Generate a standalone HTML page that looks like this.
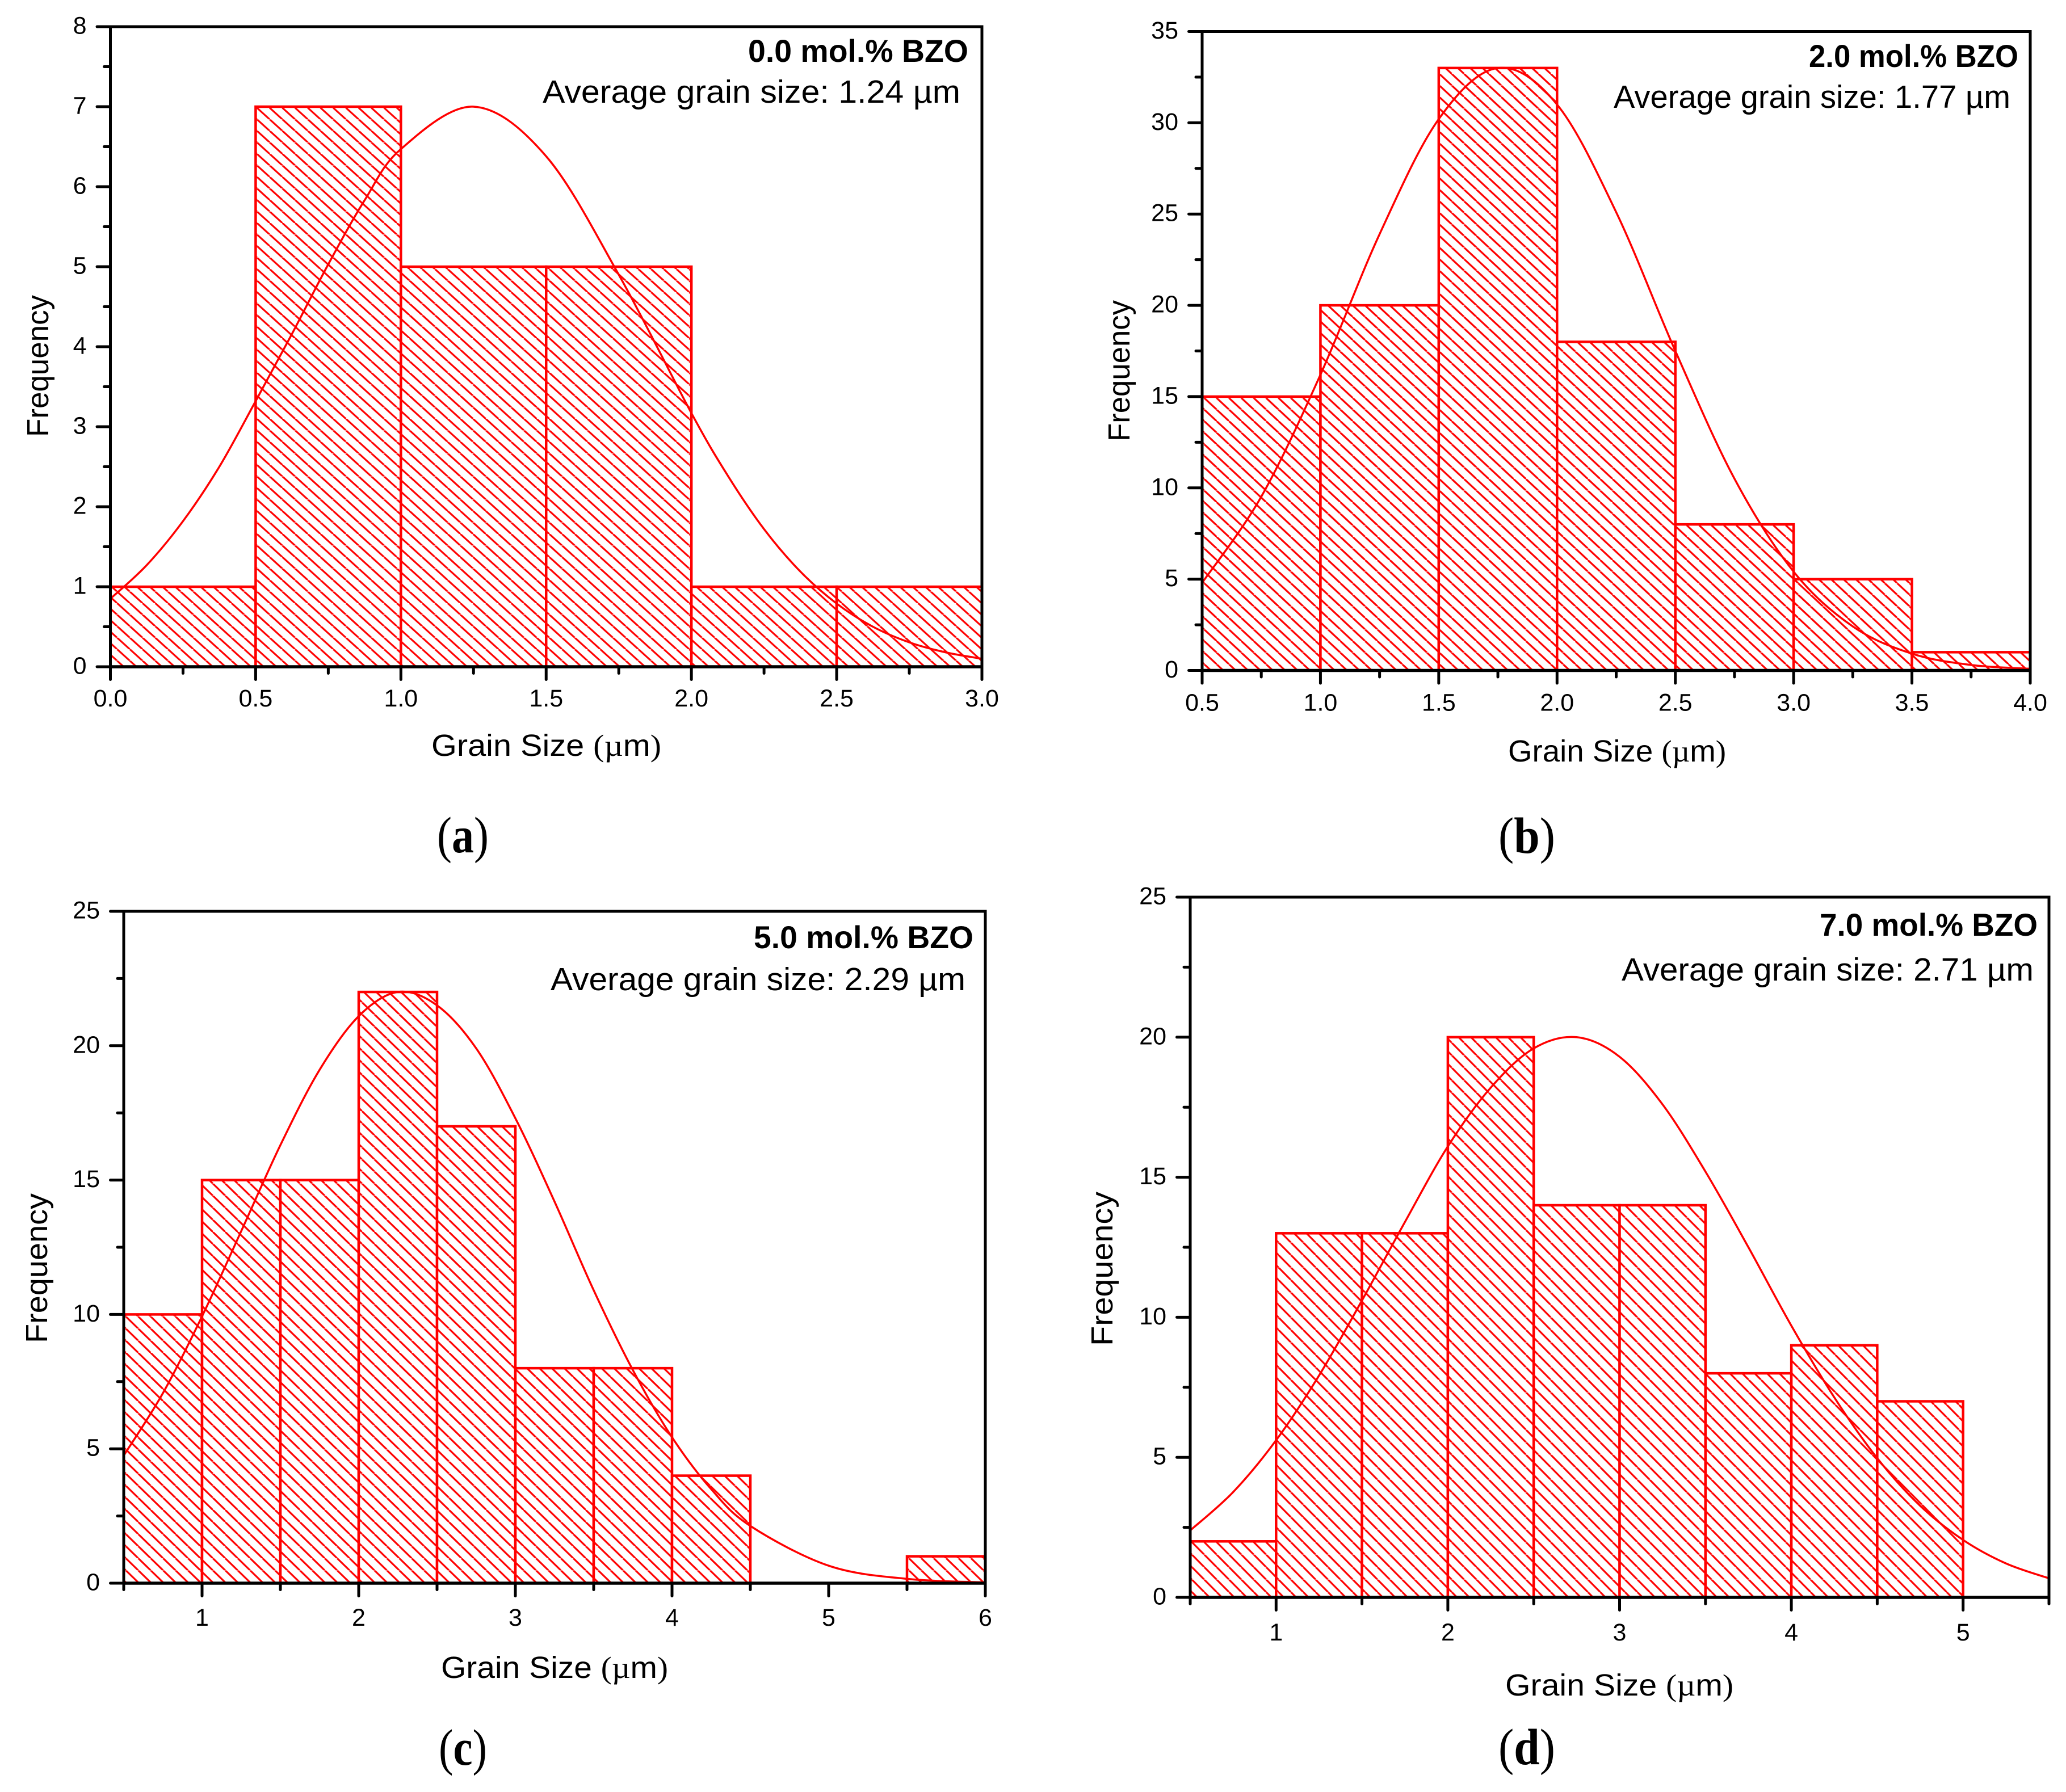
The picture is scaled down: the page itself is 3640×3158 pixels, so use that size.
<!DOCTYPE html>
<html lang="en">
<head>
<meta charset="utf-8">
<title>Grain size distributions</title>
<style>
html,body{margin:0;padding:0;background:#fff;}
svg{display:block;}
text{font-family:"Liberation Sans",sans-serif;fill:#000;}
</style>
</head>
<body>
<svg id="figure" xmlns="http://www.w3.org/2000/svg" width="3640" height="3158" viewBox="0 0 3640 3158">
<rect x="0" y="0" width="3640" height="3158" fill="#fff"/>
<defs id="defs"></defs>
</svg>
<script>
// Panel (a) data
const aBinStart = 0.0;
const aBinWidth = 0.5;
const aCounts = [1, 7, 5, 5, 1, 1];
const aCurveX = [0, 0.125, 0.25, 0.375, 0.5, 0.625, 0.75, 0.875, 1, 1.25, 1.5, 1.75, 2, 2.125, 2.25, 2.375, 2.5, 2.625, 2.75, 2.875, 3];
const aCurveY = [0.85, 1.27, 1.82, 2.5, 3.32, 4.16, 5.03, 5.83, 6.47, 7.0, 6.38, 4.9, 3.17, 2.39, 1.72, 1.19, 0.79, 0.5, 0.305, 0.18, 0.1];
const aXLabels = ["0.0", "0.5", "1.0", "1.5", "2.0", "2.5", "3.0"];
const aXMinor = [0.25, 0.75, 1.25, 1.75, 2.25, 2.75];
const aYLabels = ["0", "1", "2", "3", "4", "5", "6", "7", "8"];
const aYMinor = [0.5, 1.5, 2.5, 3.5, 4.5, 5.5, 6.5, 7.5];

// Panel (b) data
const bBinStart = 0.5;
const bBinWidth = 0.5;
const bCounts = [15, 20, 33, 18, 8, 5, 1];
const bCurveX = [0.5, 0.75, 1, 1.25, 1.5, 1.75, 2, 2.25, 2.5, 2.75, 3, 3.25, 3.5, 3.75, 4];
const bCurveY = [4.8, 9.52, 16.2, 23.9, 30.2, 33.0, 31.0, 25.1, 17.5, 10.5, 5.41, 2.41, 0.92, 0.3, 0.09];
const bXLabels = ["0.5", "1.0", "1.5", "2.0", "2.5", "3.0", "3.5", "4.0"];
const bXMinor = [0.75, 1.25, 1.75, 2.25, 2.75, 3.25, 3.75];
const bYLabels = ["0", "5", "10", "15", "20", "25", "30", "35"];
const bYMinor = [2.5, 7.5, 12.5, 17.5, 22.5, 27.5, 32.5];

// Panel (c) data
const cBinStart = 0.5;
const cBinWidth = 0.5;
const cCounts = [10, 15, 15, 22, 17, 8, 8, 4, 0, 0, 1];
const cCurveX = [0.5, 0.75, 1, 1.25, 1.5, 1.75, 2, 2.25, 2.5, 2.75, 3, 3.25, 3.5, 3.75, 4, 4.25, 4.5, 5, 5.5, 6];
const cCurveY = [4.75, 7.07, 9.93, 13.1, 16.3, 19.1, 21.1, 22.0, 21.5, 19.9, 17.3, 14.2, 10.9, 7.93, 5.43, 3.5, 2.13, 0.65, 0.16, 0.03];
const cXLabels = ["1", "2", "3", "4", "5", "6"];
const cXMinor = [0.5, 1.5, 2.5, 3.5, 4.5, 5.5];
const cYLabels = ["0", "5", "10", "15", "20", "25"];
const cYMinor = [2.5, 7.5, 12.5, 17.5, 22.5];

// Panel (d) data
const dBinStart = 0.5;
const dBinWidth = 0.5;
const dCounts = [2, 13, 13, 20, 14, 14, 8, 9, 7];
const dCurveX = [0.5, 0.75, 1, 1.25, 1.5, 1.75, 2, 2.25, 2.5, 2.75, 3, 3.25, 3.5, 3.75, 4, 4.25, 4.5, 4.75, 5, 5.25, 5.5];
const dCurveY = [2.39, 3.76, 5.61, 7.92, 10.6, 13.4, 16.1, 18.2, 19.6, 20.0, 19.3, 17.6, 15.2, 12.5, 9.7, 7.14, 4.97, 3.27, 2.05, 1.21, 0.68];
const dXLabels = ["1", "2", "3", "4", "5"];
const dXMinor = [0.5, 1.5, 2.5, 3.5, 4.5, 5.5];
const dYLabels = ["0", "5", "10", "15", "20", "25"];
const dYMinor = [2.5, 7.5, 12.5, 17.5, 22.5];

const panels = [
  {id:"a", start:aBinStart, width:aBinWidth, counts:aCounts, cx:aCurveX, cy:aCurveY, xl:aXLabels, xm:aXMinor, yl:aYLabels, ym:aYMinor,
   x0:0, x1:3, y1:8, L:194.5, R:1730, B:1175, T:47, xLabelDy:70,
   hatch:{w:22.4,h:20.3,px:452.7,py:190},
   bold:"0.0 mol.% BZO", boldBox:[1318,1706,109], avg:"Average grain size: 1.24 µm", avgBox:[956,1692,181],
   xTitle:[760,1165,1332], yTitle:[85,770,520], tag:"a", tagBox:[770,861,1502]},
  {id:"b", start:bBinStart, width:bBinWidth, counts:bCounts, cx:bCurveX, cy:bCurveY, xl:bXLabels, xm:bXMinor, yl:bYLabels, ym:bYMinor,
   x0:0.5, x1:4, y1:35, L:2118, R:3577, B:1181.5, T:55.5, xLabelDy:71,
   hatch:{w:21.8,h:20.4,px:2121.7,py:803.3},
   bold:"2.0 mol.% BZO", boldBox:[3187,3556,118], avg:"Average grain size: 1.77 µm", avgBox:[2843,3542,190],
   xTitle:[2657,3041,1342], yTitle:[1990,778,529], tag:"b", tagBox:[2640,2740,1503]},
  {id:"c", start:cBinStart, width:cBinWidth, counts:cCounts, cx:cCurveX, cy:cCurveY, xl:cXLabels, xm:cXMinor, yl:cYLabels, ym:cYMinor,
   x0:0.5, x1:6, y1:25, L:218, R:1736, B:2790, T:1606, xLabelDy:75,
   hatch:{w:21.9,h:21.3,px:221.7,py:2384},
   bold:"5.0 mol.% BZO", boldBox:[1328,1715,1671], avg:"Average grain size: 2.29 µm", avgBox:[970,1701,1745],
   xTitle:[777,1177,2957], yTitle:[83,2367,2103], tag:"c", tagBox:[773,858,3110]},
  {id:"d", start:dBinStart, width:dBinWidth, counts:dCounts, cx:dCurveX, cy:dCurveY, xl:dXLabels, xm:dXMinor, yl:dYLabels, ym:dYMinor,
   x0:0.5, x1:5.5, y1:25, L:2097, R:3610, B:2815, T:1581, xLabelDy:76,
   hatch:{w:21.8,h:22,px:2100,py:2761.7},
   bold:"7.0 mol.% BZO", boldBox:[3206,3590,1649], avg:"Average grain size: 2.71 µm", avgBox:[2857,3583,1728],
   xTitle:[2652,3054,2988], yTitle:[1960,2372,2100], tag:"d", tagBox:[2640,2740,3109]}
];

const NS = "http://www.w3.org/2000/svg";
const root = document.getElementById("figure");
const defs = document.getElementById("defs");

function make(tag, parent, attrs) {
  const n = document.createElementNS(NS, tag);
  for (const k in attrs) n.setAttribute(k, attrs[k]);
  parent.appendChild(n);
  return n;
}

function smoothPath(pts) {
  let d = "M" + pts[0][0].toFixed(2) + "," + pts[0][1].toFixed(2);
  for (let i = 0; i < pts.length - 1; i++) {
    const p0 = pts[Math.max(0, i - 1)], p1 = pts[i], p2 = pts[i + 1], p3 = pts[Math.min(pts.length - 1, i + 2)];
    const c1x = p1[0] + (p2[0] - p0[0]) / 6, c1y = p1[1] + (p2[1] - p0[1]) / 6;
    const c2x = p2[0] - (p3[0] - p1[0]) / 6, c2y = p2[1] - (p3[1] - p1[1]) / 6;
    d += "C" + c1x.toFixed(2) + "," + c1y.toFixed(2) + " " + c2x.toFixed(2) + "," + c2y.toFixed(2) + " " + p2[0].toFixed(2) + "," + p2[1].toFixed(2);
  }
  return d;
}

panels.forEach(function (p) {
  const sx = function (v) { return p.L + (v - p.x0) / (p.x1 - p.x0) * (p.R - p.L); };
  const sy = function (v) { return p.B - v / p.y1 * (p.B - p.T); };

  const g = make("g", root, {});
  
  

  // hatch pattern
  const h = p.hatch;
  const pat = make("pattern", defs, {id: "hatch-" + p.id, patternUnits: "userSpaceOnUse", width: h.w, height: h.h,
    patternTransform: "translate(" + h.px + "," + h.py + ")"});
  make("rect", pat, {x: 0, y: 0, width: h.w, height: h.h, fill: "#fff"});
  [-h.w, 0, h.w].forEach(function (o) {
    make("line", pat, {x1: o, y1: 0, x2: o + h.w, y2: h.h, stroke: "#ff0000", "stroke-width": 3.2});
  });

  // bars
  p.counts.forEach(function (c, i) {
    if (c <= 0) return;
    const xa = sx(p.start + i * p.width), xb = sx(p.start + (i + 1) * p.width);
    const bar = make("rect", g, {x: xa, y: sy(c), width: xb - xa, height: p.B - sy(c),
      fill: "url(#hatch-" + p.id + ")", stroke: "#ff0000", "stroke-width": 4.5});
    
    
  });

  // fit curve
  const pts = p.cx.map(function (x, i) { return [sx(x), sy(p.cy[i])]; });
  const curve = make("path", g, {d: smoothPath(pts), fill: "none", stroke: "#ff0000", "stroke-width": 3.5});
  
  

  // frame
  const frame = make("rect", g, {x: p.L, y: p.T, width: p.R - p.L, height: p.B - p.T, fill: "none", stroke: "#000", "stroke-width": 5});
  
  
  const base = make("line", g, {x1: p.L, y1: p.B, x2: p.R, y2: p.B, stroke: "#000", "stroke-width": 5.5});
  
  

  // y ticks
  p.yl.forEach(function (lab) {
    const v = parseFloat(lab), y = sy(v);
    const t = make("line", g, {x1: p.L - 23.5, y1: y, x2: p.L, y2: y, stroke: "#000", "stroke-width": 5, "stroke-linecap": "round"});
    
    
    const tx = make("text", g, {x: p.L - 42, y: y + 12.5, "text-anchor": "end", "font-size": 43});
    tx.textContent = lab;
    
    
  });
  p.ym.forEach(function (v) {
    const t = make("line", g, {x1: p.L - 11, y1: sy(v), x2: p.L, y2: sy(v), stroke: "#000", "stroke-width": 5, "stroke-linecap": "round"});
    
    
  });

  // x ticks
  p.xl.forEach(function (lab) {
    const v = parseFloat(lab), x = sx(v);
    const t = make("line", g, {x1: x, y1: p.B, x2: x, y2: p.B + 22.5, stroke: "#000", "stroke-width": 5, "stroke-linecap": "round"});
    
    
    const tx = make("text", g, {x: x, y: p.B + p.xLabelDy, "text-anchor": "middle", "font-size": 43});
    tx.textContent = lab;
    
    
  });
  p.xm.forEach(function (v) {
    const t = make("line", g, {x1: sx(v), y1: p.B, x2: sx(v), y2: p.B + 11.5, stroke: "#000", "stroke-width": 5, "stroke-linecap": "round"});
    
    
  });

  // annotations
  const bold = make("text", g, {x: p.boldBox[0], y: p.boldBox[2], "font-size": 56, "font-weight": "bold",
    textLength: p.boldBox[1] - p.boldBox[0], lengthAdjust: "spacingAndGlyphs"});
  bold.textContent = p.bold;
  
  

  const avg = make("text", g, {x: p.avgBox[0], y: p.avgBox[2], "font-size": 57,
    textLength: p.avgBox[1] - p.avgBox[0], lengthAdjust: "spacingAndGlyphs"});
  avg.textContent = p.avg;
  
  

  // x title
  const xt = make("text", g, {x: p.xTitle[0], y: p.xTitle[2], "font-size": 54,
    textLength: p.xTitle[1] - p.xTitle[0], lengthAdjust: "spacingAndGlyphs"});
  
  
  make("tspan", xt, {}).textContent = "Grain Size ";
  make("tspan", xt, {style: 'font-family:"Liberation Serif",serif'}).textContent = "(µ";
  make("tspan", xt, {}).textContent = "m";
  make("tspan", xt, {style: 'font-family:"Liberation Serif",serif'}).textContent = ")";

  // y title
  const yt = make("text", g, {x: 0, y: 0, "font-size": 54,
    transform: "translate(" + p.yTitle[0] + "," + p.yTitle[1] + ") rotate(-90)",
    textLength: p.yTitle[1] - p.yTitle[2], lengthAdjust: "spacingAndGlyphs"});
  yt.textContent = "Frequency";
  
  

  // panel tag
  const tag = make("text", g, {x: p.tagBox[0], y: p.tagBox[2], "font-size": 90,
    textLength: p.tagBox[1] - p.tagBox[0], lengthAdjust: "spacingAndGlyphs",
    style: 'font-family:"Liberation Serif",serif'});
  
  
  make("tspan", tag, {}).textContent = "(";
  make("tspan", tag, {"font-weight": "bold"}).textContent = p.tag;
  make("tspan", tag, {}).textContent = ")";
});
</script>
</body>
</html>
